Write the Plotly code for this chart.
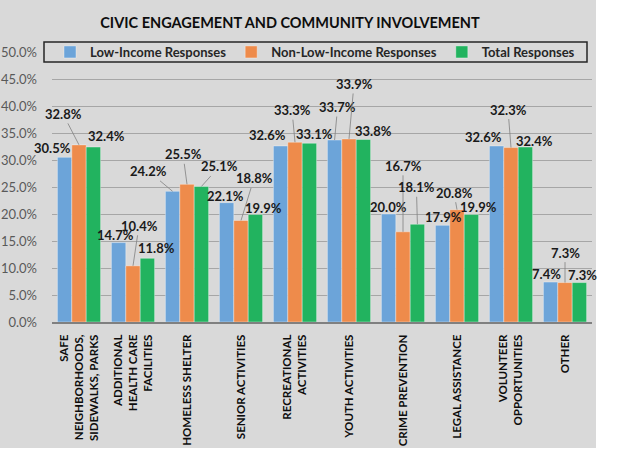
import plotly.graph_objects as go

categories = [
    "SAFE<br>NEIGHBORHOODS,<br>SIDEWALKS, PARKS",
    "ADDITIONAL<br>HEALTH CARE<br>FACILITIES",
    "HOMELESS SHELTER",
    "SENIOR ACTIVITIES",
    "RECREATIONAL<br>ACTIVITIES",
    "YOUTH ACTIVITIES",
    "CRIME PREVENTION",
    "LEGAL ASSISTANCE",
    "VOLUNTEER<br>OPPORTUNITIES",
    "OTHER",
]
series_names = ["Low-Income Responses", "Non-Low-Income Responses", "Total Responses"]
low_income = [0.305, 0.147, 0.242, 0.221, 0.326, 0.337, 0.200, 0.179, 0.326, 0.074]
non_low_income = [0.328, 0.104, 0.255, 0.188, 0.333, 0.339, 0.167, 0.208, 0.323, 0.073]
total = [0.324, 0.118, 0.251, 0.199, 0.331, 0.338, 0.181, 0.199, 0.324, 0.073]
y_ticks = [0.0, 0.05, 0.10, 0.15, 0.20, 0.25, 0.30, 0.35, 0.40, 0.45, 0.50]

colors = ["#6CA4D9", "#EE8B4B", "#22B35F"]

# label placement offsets (pixels) relative to bar top, and whether a leader line is drawn
label_dx = [
    [-12, -3, -24, -1, -13, 3, 0, 1, -13, -4],
    [-16, 6, -4, 13, -3, 5, 0, -3, -3, 0],
    [13, 9, 18, 8, 5, 10, -1, 7, 9, 3],
]
label_dy = [
    [-9, -8, -20, -7, -11, -33, -7, -8, -9, -8],
    [-31, -40, -30, -42, -32, -55, -66, -17, -38, -30],
    [-11, -10, -20, -7, -9, -8, -37, -8, -6, -8],
]
leader = [
    [0, 0, 1, 0, 0, 1, 0, 0, 0, 0],
    [1, 1, 1, 1, 1, 1, 1, 1, 1, 1],
    [0, 0, 1, 0, 0, 0, 1, 0, 0, 0],
]

FONT = "Lato"
bargap = 0.2
bar_w = (1 - bargap) / 3

fig = go.Figure()
all_series = [low_income, non_low_income, total]
for name, vals, col in zip(series_names, all_series, colors):
    fig.add_trace(go.Bar(
        x=categories, y=vals, name=name,
        marker=dict(color=col, line=dict(color="rgba(255,255,255,0.45)", width=0.8)),
    ))

annotations = []
for s, vals in enumerate(all_series):
    for k, v in enumerate(vals):
        annotations.append(dict(
            x=k + (s - 1) * bar_w, y=v, xref="x", yref="y",
            text=f"<b>{v*100:.1f}%</b>",
            showarrow=True, arrowhead=0, standoff=0, startstandoff=0,
            arrowwidth=0.8,
            arrowcolor="#808080" if leader[s][k] else "rgba(0,0,0,0)",
            ax=label_dx[s][k], ay=label_dy[s][k],
            font=dict(family=FONT, size=13, color="#1a1a1a"),
        ))

PW, PH, ML, MT = 540, 270, 52, 52  # plot area size / margins in px


def px_x(p):
    return (p - ML) / PW


def px_y(p):
    return (MT + PH - p) / PH


fig.update_layout(
    width=621, height=456,
    margin=dict(l=ML, r=621 - ML - PW, t=MT, b=456 - MT - PH, autoexpand=False),
    paper_bgcolor="white",
    plot_bgcolor="rgba(0,0,0,0)",
    barmode="group", bargap=bargap, bargroupgap=0,
    title=dict(
        text="<b>CIVIC ENGAGEMENT AND COMMUNITY INVOLVEMENT</b>",
        x=290 / 621, xanchor="center", xref="container",
        y=1 - 23 / 456, yanchor="middle", yref="container",
        font=dict(family=FONT, size=14.5, color="#0d0d0d"),
    ),
    legend=dict(
        orientation="h", x=px_x(315), xanchor="center", y=px_y(52), yanchor="middle",
        borderwidth=0, bgcolor="rgba(0,0,0,0)",
        font=dict(family=FONT, size=13, color="#262626", weight="bold"),
        itemwidth=30,
    ),
    xaxis=dict(
        tickangle=-90, showgrid=False, ticks="", automargin=False,
        range=[-0.5, len(categories) - 0.5],
        tickvals=categories, ticktext=[f"<b>{c}</b>" for c in categories],
        ticklabelstandoff=6,
        showline=True, linecolor="#808080", linewidth=2,
        tickfont=dict(family=FONT, size=11.5, color="#0d0d0d"),
    ),
    yaxis=dict(
        range=[0, 0.5], tickvals=y_ticks, tickformat=".1%", automargin=False,
        showgrid=True, gridcolor="#a6a6a6", gridwidth=1,
        zeroline=False, showline=False, ticks="",
        ticklabelstandoff=14,
        tickfont=dict(family=FONT, size=13, color="#595959"),
    ),
    shapes=[
        dict(
            type="rect", xref="paper", yref="paper", layer="below",
            x0=px_x(0), x1=px_x(596), y0=px_y(448), y1=px_y(0),
            fillcolor="#d9d9d9", line=dict(width=0),
        ),
        dict(
            type="rect", xref="paper", yref="paper", layer="above",
            x0=px_x(44), x1=px_x(587), y0=px_y(62), y1=px_y(42),
            fillcolor="rgba(0,0,0,0)", line=dict(color="#262626", width=1.5),
        ),
    ],
    annotations=annotations,
)

fig.write_html(
    "out.html",
    config={"displayModeBar": False},
    post_script="document.body.style.margin='0px';",
)
